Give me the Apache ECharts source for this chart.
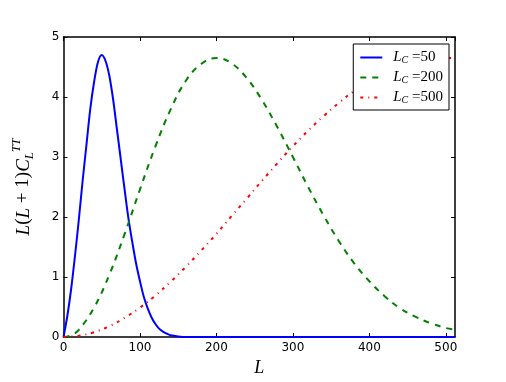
<!DOCTYPE html>
<html>
<head>
<meta charset="utf-8">
<script src="https://cdn.jsdelivr.net/npm/echarts@6/dist/echarts.min.js"></script>
<style>
  html, body { margin: 0; padding: 0; background: #fff; }
  #main { width: 506px; height: 382px; }
</style>
</head>
<body>
<div id="main"></div>
<script>
// values
var xTicks = [0, 100, 200, 300, 400, 500];
var yTicks = [0, 1, 2, 3, 4, 5];

var blueL = [0, 5, 10, 15, 20, 25, 30, 35, 40, 45, 50, 55, 60, 65, 70, 75, 80, 85, 90, 95,
             100, 105, 110, 115, 120, 125, 130, 135, 140, 150, 160, 200, 300, 400, 512];
var blueV = [0, 0.35, 0.8, 1.35, 1.95, 2.6, 3.2, 3.8, 4.25, 4.58, 4.7, 4.6, 4.35, 3.95, 3.45, 2.95,
             2.45, 1.97, 1.58, 1.22, 0.93, 0.67, 0.48, 0.33, 0.22, 0.14, 0.09, 0.055, 0.03, 0.01, 0, 0, 0, 0, 0];

var greenL = [0, 10, 20, 40, 60, 80, 100, 120, 140, 160, 180, 200, 220, 240, 260, 280, 300,
              320, 340, 360, 380, 400, 420, 440, 460, 480, 500, 512];
var greenV = [0, 0.03, 0.12, 0.49, 1.04, 1.72, 2.46, 3.17, 3.79, 4.27, 4.55, 4.65, 4.56, 4.31, 3.94,
              3.49, 3.0, 2.5, 2.03, 1.6, 1.23, 0.93, 0.68, 0.48, 0.34, 0.23, 0.15, 0.12];

var redL = [0, 20, 40, 60, 80, 100, 120, 140, 160, 180, 200, 220, 240, 260, 280, 300, 320, 340,
            360, 380, 400, 420, 440, 460, 480, 500, 512];
var redV = [0, 0.02, 0.08, 0.18, 0.32, 0.49, 0.69, 0.92, 1.17, 1.44, 1.72, 2.02, 2.31, 2.61, 2.9,
            3.18, 3.44, 3.68, 3.9, 4.1, 4.26, 4.4, 4.51, 4.59, 4.64, 4.65, 4.65];

var names = ['50', '200', '500'];

function pairs(xs, ys) {
    var out = [];
    for (var i = 0; i < xs.length; i++) out.push([xs[i], ys[i]]);
    return out;
}

var chart = echarts.init(document.getElementById('main'));

var serif = 'Liberation Serif';
var tickFont = { fontFamily: 'DejaVu Sans', fontSize: 12, color: '#000' };
var frame = { show: true, onZero: false, lineStyle: { color: '#000', width: 1.5 } };
var ticks = { inside: true, length: 4, lineStyle: { color: '#000', width: 1 } };

chart.setOption({
    animation: false,
    backgroundColor: '#fff',
    grid: { left: 63.5, right: 51, top: 37, bottom: 39, show: false },
    legend: {
        orient: 'vertical',
        right: 57,
        top: 44,
        padding: [6, 6, 5, 6],
        itemGap: 5,
        itemWidth: 22,
        itemHeight: 14,
        backgroundColor: '#fff',
        borderColor: '#000',
        borderWidth: 1,
        itemStyle: { opacity: 0 },
        data: names,
        formatter: function (n) {
            return '{i|L}{sub|C}{r| =' + n + '}';
        },
        textStyle: {
            color: '#000',
            rich: {
                i: { fontFamily: serif, fontStyle: 'italic', fontSize: 15, color: '#000', lineHeight: 15, padding: [0, 0, 0, 6] },
                sub: { fontFamily: serif, fontStyle: 'italic', fontSize: 10, color: '#000', verticalAlign: 'bottom', lineHeight: 15 },
                r: { fontFamily: serif, fontSize: 15, color: '#000', lineHeight: 15 }
            }
        }
    },
    xAxis: [{
        type: 'value',
        min: 0, max: 512, interval: 100,
        name: 'L',
        nameLocation: 'middle',
        nameGap: 22,
        nameTextStyle: { fontFamily: serif, fontStyle: 'italic', fontSize: 18, color: '#000' },
        axisLine: frame,
        axisTick: ticks,
        axisLabel: Object.assign({ margin: 5, showMaxLabel: false }, tickFont),
        splitLine: { show: false }
    }, {
        type: 'value', position: 'top',
        min: 0, max: 512, interval: 100,
        axisLine: frame,
        axisTick: ticks,
        axisLabel: { show: false },
        splitLine: { show: false }
    }],
    yAxis: [{
        type: 'value',
        min: 0, max: 5, interval: 1,
        name: '{i|L}{r|(}{i|L}{r| + 1)}{i|C}{sub|L}{sup|TT}',
        nameLocation: 'middle',
        nameGap: 27,
        nameRotate: 90,
        nameTextStyle: {
            rich: {
                i: { fontFamily: serif, fontStyle: 'italic', fontSize: 19, color: '#000', lineHeight: 26 },
                r: { fontFamily: serif, fontSize: 19, color: '#000', lineHeight: 26 },
                sub: { fontFamily: serif, fontStyle: 'italic', fontSize: 13, color: '#000', verticalAlign: 'bottom', lineHeight: 26 },
                sup: { fontFamily: serif, fontStyle: 'italic', fontSize: 12, color: '#000', verticalAlign: 'top', lineHeight: 26 }
            }
        },
        axisLine: frame,
        axisTick: ticks,
        axisLabel: Object.assign({ margin: 4 }, tickFont),
        splitLine: { show: false }
    }, {
        type: 'value', position: 'right',
        min: 0, max: 5, interval: 1,
        axisLine: frame,
        axisTick: ticks,
        axisLabel: { show: false },
        splitLine: { show: false }
    }],
    series: [{
        name: names[0], type: 'line', showSymbol: false, symbol: 'none',
        smooth: 0.3,
        lineStyle: { color: '#0000ff', width: 2 }, itemStyle: { color: '#0000ff' },
        data: pairs(blueL, blueV)
    }, {
        name: names[1], type: 'line', showSymbol: false, symbol: 'none',
        smooth: 0.4,
        lineStyle: { color: '#008000', width: 2, type: [6, 6] }, itemStyle: { color: '#008000' },
        data: pairs(greenL, greenV)
    }, {
        name: names[2], type: 'line', showSymbol: false, symbol: 'none',
        smooth: 0.4,
        lineStyle: { color: '#ff0000', width: 2, type: [3, 5, 1, 5] }, itemStyle: { color: '#ff0000' },
        data: pairs(redL, redV)
    }]
});
</script>
</body>
</html>
